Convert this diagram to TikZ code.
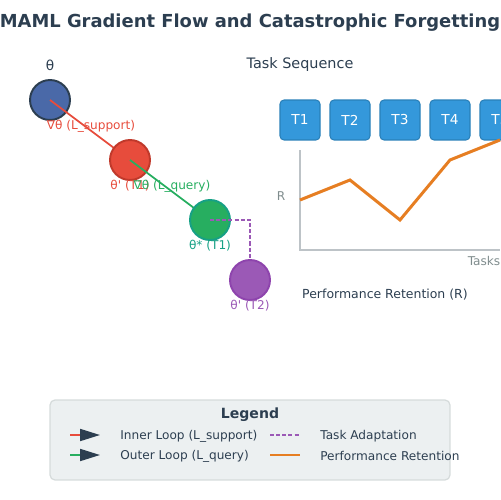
\documentclass[tikz,border=0pt]{standalone}
\usepackage{fontspec}
\setmainfont{DejaVu Sans}
\usetikzlibrary{arrows.meta,positioning,calc}
\definecolor{darkcol}{HTML}{2C3E50}
\definecolor{thetacol}{HTML}{4A69A8}
\definecolor{innercol}{HTML}{E74C3C}
\definecolor{innerdark}{HTML}{C0392B}
\definecolor{outercol}{HTML}{27AE60}
\definecolor{outerdark}{HTML}{16A085}
\definecolor{adaptcol}{HTML}{9B59B6}
\definecolor{adaptdark}{HTML}{8E44AD}
\definecolor{taskcol}{HTML}{3498DB}
\definecolor{taskdark}{HTML}{2980B9}
\definecolor{retcol}{HTML}{E67E22}
\definecolor{axiscol}{HTML}{BDC3C7}
\definecolor{greycol}{HTML}{7F8C8D}
\definecolor{legfill}{HTML}{ECF0F1}
\definecolor{legline}{HTML}{D5DBDB}
\tikzset{
  % parameter state circle
  pnode/.style 2 args={circle, draw=#2, fill=#1, line width=1.1pt, minimum size=0.8cm, inner sep=0pt},
  % small coloured caption
  caption/.style={font=\fontsize{6.9}{8}\selectfont, text=#1, inner sep=0pt},
  caption/.default={darkcol},
  % task box
  taskbox/.style={rectangle, rounded corners=2.3pt, draw=taskdark, fill=taskcol, line width=0.6pt,
                  minimum width=0.8cm, minimum height=0.8cm, text=white, font=\fontsize{7.8}{9}\selectfont},
  % gradient step line
  gradline/.style={#1, line width=1pt},
  % legend arrow
  legarrow/.style={#1, line width=1pt, -{Triangle[length=11.3pt, width=6.8pt, color=darkcol]}},
}

\begin{document}
\begin{tikzpicture}[x=0.02cm, y=-0.02cm]
  \useasboundingbox (0,0) rectangle (500,500);
  \node[font=\bfseries\fontsize{10.2}{12}\selectfont, text=darkcol] (title) at (250,23)
    {MAML Gradient Flow and Catastrophic Forgetting};

  % gradient flow
  \node[pnode={thetacol}{darkcol}] (theta) at (50,100) {};
  \node[caption, font=\fontsize{7.8}{9}\selectfont] (thetalbl) at (50,65) {θ};
  \draw[gradline=innercol] (theta.center) -- (130,160) coordinate (pcent);
  \node[pnode={innercol}{innerdark}] (thetap) at (pcent) {};
  \draw[gradline=outercol] (thetap.center) -- (210,220) coordinate (scent);
  \node[pnode={outercol}{outerdark}] (thetastar) at (scent) {};
  \node[pnode={adaptcol}{adaptdark}] (thetatwo) at (250,280) {};
  \draw[adaptcol, line width=1pt, dash pattern=on 2.3pt off 1.2pt] (thetastar.center) -| (thetatwo);
  \node[caption=innercol] (suplbl) at (91,126) {∇θ (L\_support)};
  \node[caption=innercol] (plbl) at (130,186) {θ\textquotesingle\ (T1)};
  \node[caption=outercol] (qrylbl) at (172,186) {∇θ (L\_query)};
  \node[caption=outerdark] (slbl) at (210,246) {θ* (T1)};
  \node[caption=adaptcol] (tlbl) at (250,306) {θ\textquotesingle\ (T2)};

  % task sequence
  \node[caption, font=\fontsize{8.2}{10}\selectfont] (seqlbl) at (300,65) {Task Sequence};
  \foreach \i in {1,...,5}
    \node[taskbox] (t\i) at ({300+50*(\i-1)},120) {T\i};

  % retention chart
  \coordinate (origin) at (300,250);
  \coordinate (ytop) at (300,150);
  \coordinate (xend) at (500,250);
  \draw[axiscol, line width=0.7pt] (ytop) -- (origin) -- (xend);
  \node[caption=greycol] (rlbl) at (281,196) {R};
  \node[caption=greycol] (tasklbl) at (484,261) {Tasks};
  \coordinate (r1) at (300,200);
  \coordinate (r2) at (350,180);
  \coordinate (r3) at (400,220);
  \coordinate (r4) at (450,160);
  \coordinate (r5) at (500,140);
  \draw[retcol, line width=1.7pt] (r1) -- (r2) -- (r3) -- (r4) -- (r5);
  \node[caption, font=\fontsize{7.1}{9}\selectfont] (retlbl) at (385,295) {Performance Retention (R)};

  % legend
  \node[draw=legline, fill=legfill, rounded corners=2.8pt, line width=0.7pt,
        minimum width=8cm, minimum height=1.6cm] (legend) at (250,440) {};
  \node[caption, font=\bfseries\fontsize{8}{9}\selectfont] (leghead) at (250,415) {Legend};
  \coordinate (ia) at (70,435);  \coordinate (ib) at (100,435);
  \coordinate (oa) at (70,455);  \coordinate (ob) at (100,455);
  \coordinate (da) at (270,435); \coordinate (db) at (299,435);
  \coordinate (ra) at (270,455); \coordinate (rb) at (300,455);
  \draw[legarrow=innercol] (ia) -- (ib);
  \draw[legarrow=outercol] (oa) -- (ob);
  \draw[adaptcol, line width=1pt, dash pattern=on 2.3pt off 1.2pt] (da) -- (db);
  \draw[retcol, line width=1.7pt] (ra) -- (rb);
  \node[caption, anchor=west] (inlbl) at (120,436) {Inner Loop (L\_support)};
  \node[caption, anchor=west] (outlbl) at (120,456) {Outer Loop (L\_query)};
  \node[caption, anchor=west] (adlbl) at (320,436) {Task Adaptation};
  \node[caption, anchor=west] (pflbl) at (320,456) {Performance Retention};
\end{tikzpicture}
\end{document}
